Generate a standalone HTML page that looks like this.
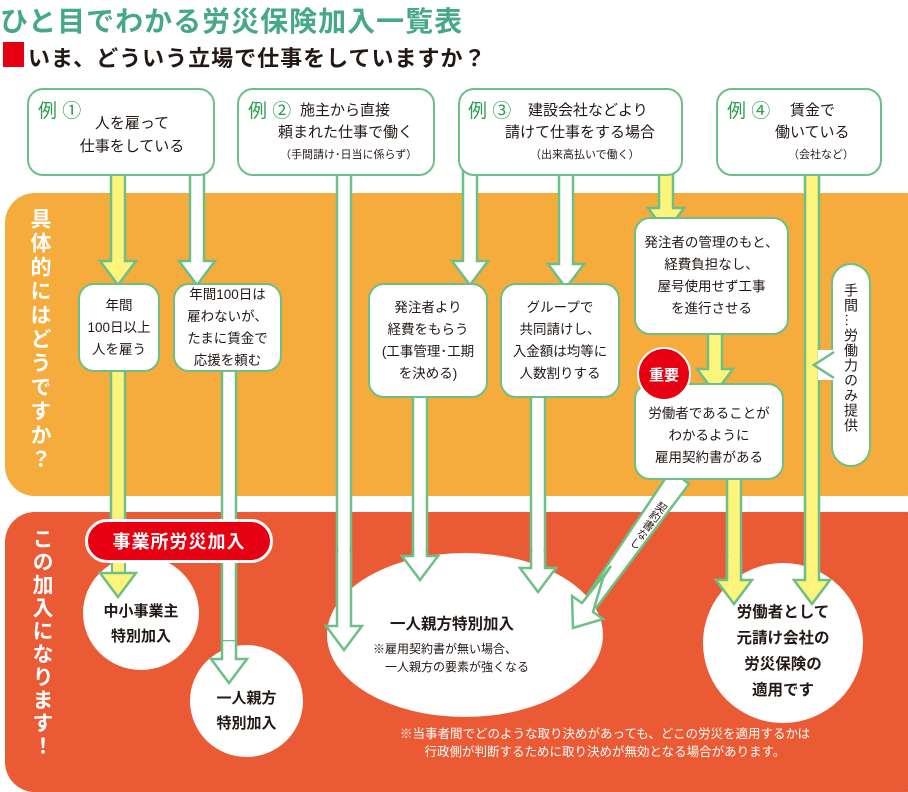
<!DOCTYPE html>
<html><head><meta charset="utf-8"><style>
*{margin:0;padding:0;box-sizing:border-box}
body{width:908px;height:774px;position:relative;background:#fff;overflow:hidden;font-family:"Liberation Sans","Noto Sans CJK JP",sans-serif;color:#231815}
.a{position:absolute}
.box{position:absolute;background:#fff;border:2.5px solid #6dbf86;border-radius:16px}
.t{position:absolute;white-space:nowrap;text-align:center}
.ex{color:#2a9d4e;font-size:19px}
.c{position:absolute;background:#fff;border-radius:50%}
.mid{font-size:13.5px;line-height:22px;text-align:center;display:flex;align-items:center;justify-content:center}
.v{writing-mode:vertical-rl;white-space:nowrap}
</style></head><body>
<div class="t" style="left:0;top:0;font-size:28px;font-weight:bold;color:#45a887;letter-spacing:1px">ひと目でわかる労災保険加入一覧表</div>
<div class="a" style="left:3px;top:42px;width:21px;height:25px;background:#e60012"></div>
<div class="t" style="left:28px;top:41px;font-size:22px;font-weight:bold;letter-spacing:1px">いま、どういう立場で仕事をしていますか？</div>

<div class="a" style="left:5px;top:193px;width:930px;height:303px;background:#f5ac3c;border-radius:30px"></div>
<div class="a" style="left:5px;top:512px;width:930px;height:280px;background:#e95a35;border-radius:30px"></div>
<div class="a v" style="left:24px;top:208px;font-size:21px;letter-spacing:3px;color:#fff;font-weight:bold">具体的にはどうですか？</div>
<div class="a v" style="left:26px;top:528px;font-size:21px;letter-spacing:2px;color:#fff;font-weight:bold">この加入になります！</div>

<svg class="a" style="left:0;top:0" width="908" height="774">
<g stroke="#6dbf86" stroke-width="2.5" stroke-linejoin="miter">
<polygon fill="#fdf47c" points="111,170 125,170 125,261 136,261 118,285 100,261 111,261"/>
<polygon fill="#fff" points="190,170 204,170 204,261 215,261 197,285 179,261 190,261"/>
<polygon fill="#fff" points="337,170 351,170 351,626 362,626 344,650 326,626 337,626"/>
<polygon fill="#fff" points="463,170 477,170 477,261 488,261 470,285 452,261 463,261"/>
<polygon fill="#fff" points="559,170 573,170 573,264 584,264 566,288 548,264 559,264"/>
<polygon fill="#fdf47c" points="659,170 673,170 673,208 684,208 666,232 648,208 659,208"/>
<polygon fill="#fdf47c" points="805,170 819,170 819,580 830,580 812,604 794,580 805,580"/>
<polygon fill="#fdf47c" points="111,365 125,365 125,573 136,573 118,597 100,573 111,573"/>
<polygon fill="#fff" points="222,365 236,365 236,659 247,659 229,683 211,659 222,659"/>
<polygon fill="#fff" points="413,390 427,390 427,556 438,556 420,580 402,556 413,556"/>
<polygon fill="#fff" points="531,390 545,390 545,568 556,568 538,592 520,568 531,568"/>
<polygon fill="#fdf47c" points="708,330 722,330 722,369 733,369 715,393 697,369 708,369"/>
<polygon fill="#fdf47c" points="727,475 741,475 741,580 752,580 734,604 716,580 727,580"/>
<polygon fill="#fff" points="671,470 689,484 593,612 603,619 573,628 572,596 582,603"/>
</g>
</svg>

<!-- top boxes -->
<div class="box" style="left:27px;top:88px;width:188px;height:88px"></div>
<div class="t ex" style="left:38px;top:96px">例 ①</div>
<div class="t" style="left:72px;top:112px;width:120px;font-size:15px;line-height:23px">人を雇って<br>仕事をしている</div>

<div class="box" style="left:237px;top:88px;width:198px;height:88px"></div>
<div class="t ex" style="left:248px;top:96px">例 ②</div>
<div class="t" style="left:300px;top:99px;font-size:15px">施主から直接</div>
<div class="t" style="left:278px;top:121px;font-size:15px">頼まれた仕事で働く</div>
<div class="t" style="left:280px;top:146px;font-size:11px">（手間請け･日当に係らず）</div>

<div class="box" style="left:458px;top:88px;width:225px;height:88px"></div>
<div class="t ex" style="left:468px;top:96px">例 ③</div>
<div class="t" style="left:528px;top:99px;font-size:15px">建設会社などより</div>
<div class="t" style="left:505px;top:121px;font-size:15px">請けて仕事をする場合</div>
<div class="t" style="left:530px;top:146px;font-size:11px">（出来高払いで働く）</div>

<div class="box" style="left:716px;top:88px;width:166px;height:88px"></div>
<div class="t ex" style="left:727px;top:96px">例 ④</div>
<div class="t" style="left:790px;top:99px;font-size:15px">賃金で</div>
<div class="t" style="left:775px;top:121px;font-size:15px">働いている</div>
<div class="t" style="left:788px;top:146px;font-size:11px">（会社など）</div>

<!-- middle boxes -->
<div class="box mid" style="left:78px;top:283px;width:82px;height:89px">年間<br>100日以上<br>人を雇う</div>
<div class="box mid" style="left:173px;top:283px;width:109px;height:89px">年間100日は<br>雇わないが、<br>たまに賃金で<br>応援を頼む</div>
<div class="box mid" style="left:368px;top:283px;width:120px;height:115px">発注者より<br>経費をもらう<br>(工事管理･工期<br>を決める)</div>
<div class="box mid" style="left:500px;top:283px;width:120px;height:115px">グループで<br>共同請けし、<br>入金額は均等に<br>人数割りする</div>
<div class="box mid" style="left:634px;top:217px;width:155px;height:118px">発注者の管理のもと、<br>経費負担なし、<br>屋号使用せず工事<br>を進行させる</div>
<div class="box mid" style="left:634px;top:383px;width:150px;height:97px;padding-top:8px">労働者であることが<br>わかるように<br>雇用契約書がある</div>
<div class="a" style="left:637px;top:347px;width:54px;height:54px;border-radius:50%;background:#e60012;border:2px solid #fff;color:#fff;font-weight:bold;font-size:15px;display:flex;align-items:center;justify-content:center">重要</div>
<svg class="a" style="left:812px;top:350px" width="24" height="30"><polygon points="22,2 2,15 22,28" fill="#fff" stroke="#6dbf86" stroke-width="2.5"/></svg>
<div class="box" style="left:831px;top:263px;width:40px;height:204px;border-radius:20px"></div>
<div class="a" style="left:818px;top:350px;width:20px;height:30px;background:#fff"></div>
<svg class="a" style="left:812px;top:350px" width="24" height="30"><polyline points="22,2 2,15 22,28" fill="none" stroke="#6dbf86" stroke-width="2.5"/></svg>
<div class="a v" style="left:841px;top:283px;font-size:14px;line-height:20px;letter-spacing:1px">手間…労働力のみ提供</div>

<div class="a v" style="left:640px;top:497px;width:14px;height:58px;transform:rotate(35deg);transform-origin:center;font-size:11px;line-height:14px;color:#231815">契約書なし</div>

<!-- bottom -->
<div class="c" style="left:83px;top:556px;width:116px;height:114px"></div>
<div class="a" style="left:111px;top:556px;width:15px;height:20px;background:#fdf47c;border-left:2.5px solid #6dbf86;border-right:2.5px solid #6dbf86"></div>
<svg class="a" style="left:98px;top:570px" width="40" height="30"><polygon points="2,3 38,3 20,27" fill="#fdf47c" stroke="#6dbf86" stroke-width="2.5"/></svg>
<div class="t" style="left:83px;top:599px;width:116px;font-size:15px;font-weight:bold;line-height:25px">中小事業主<br>特別加入</div>
<div class="a" style="left:85px;top:519px;width:188px;height:44px;border-radius:22px;background:#e60012;border:3px solid #fff;color:#fff;font-weight:bold;font-size:18px;letter-spacing:1px;display:flex;align-items:center;justify-content:center">事業所労災加入</div>

<div class="c" style="left:190px;top:645px;width:113px;height:112px"></div>
<svg class="a" style="left:208px;top:640px" width="44" height="46"><polygon points="14,0 28,0 28,19 39,19 21,43 3,19 14,19" fill="#fff" stroke="#6dbf86" stroke-width="2.5"/></svg>
<div class="t" style="left:190px;top:686px;width:113px;font-size:15px;font-weight:bold;line-height:25px">一人親方<br>特別加入</div>

<div class="c" style="left:327px;top:553px;width:276px;height:164px"></div>
<svg class="a" style="left:0;top:0" width="908" height="774">
<g stroke="#6dbf86" stroke-width="2.5" fill="#fff">
<polygon points="337,550 351,550 351,626 362,626 344,650 326,626 337,626"/>
<polygon points="413,550 427,550 427,556 438,556 420,580 402,556 413,556"/>
<polygon points="531,550 545,550 545,568 556,568 538,592 520,568 531,568"/>
<polygon points="611,566 603,578 593,612 603,619 573,628 572,596 582,603"/>
</g>
<rect x="338.5" y="545" width="11" height="82" fill="#fff"/>
<rect x="414.5" y="545" width="11" height="12" fill="#fff"/>
<rect x="532.5" y="545" width="11" height="24" fill="#fff"/>
</svg>
<div class="t" style="left:390px;top:612px;font-size:15.5px;font-weight:bold">一人親方特別加入</div>
<div class="t" style="left:373px;top:640px;font-size:12px;line-height:18px;text-align:left">※雇用契約書が無い場合、<br>　一人親方の要素が強くなる</div>

<div class="c" style="left:703px;top:563px;width:160px;height:160px"></div>
<svg class="a" style="left:700px;top:555px" width="150" height="52"><g stroke="#6dbf86" stroke-width="2.5" fill="#fdf47c"><polygon points="27,0 41,0 41,25 52,25 34,49 16,25 27,25"/><polygon points="105,0 119,0 119,25 130,25 112,49 94,25 105,25"/></g>
<rect x="28.5" y="0" width="11" height="27" fill="#fdf47c"/><rect x="106.5" y="0" width="11" height="27" fill="#fdf47c"/></svg>
<div class="t" style="left:703px;top:600px;width:160px;font-size:15.5px;font-weight:bold;line-height:26px">労働者として<br>元請け会社の<br>労災保険の<br>適用です</div>

<div class="t" style="left:355px;top:725px;width:500px;font-size:12.5px;line-height:18px;color:#fff">※当事者間でどのような取り決めがあっても、どこの労災を適用するかは<br>行政側が判断するために取り決めが無効となる場合があります。</div>
</body></html>
